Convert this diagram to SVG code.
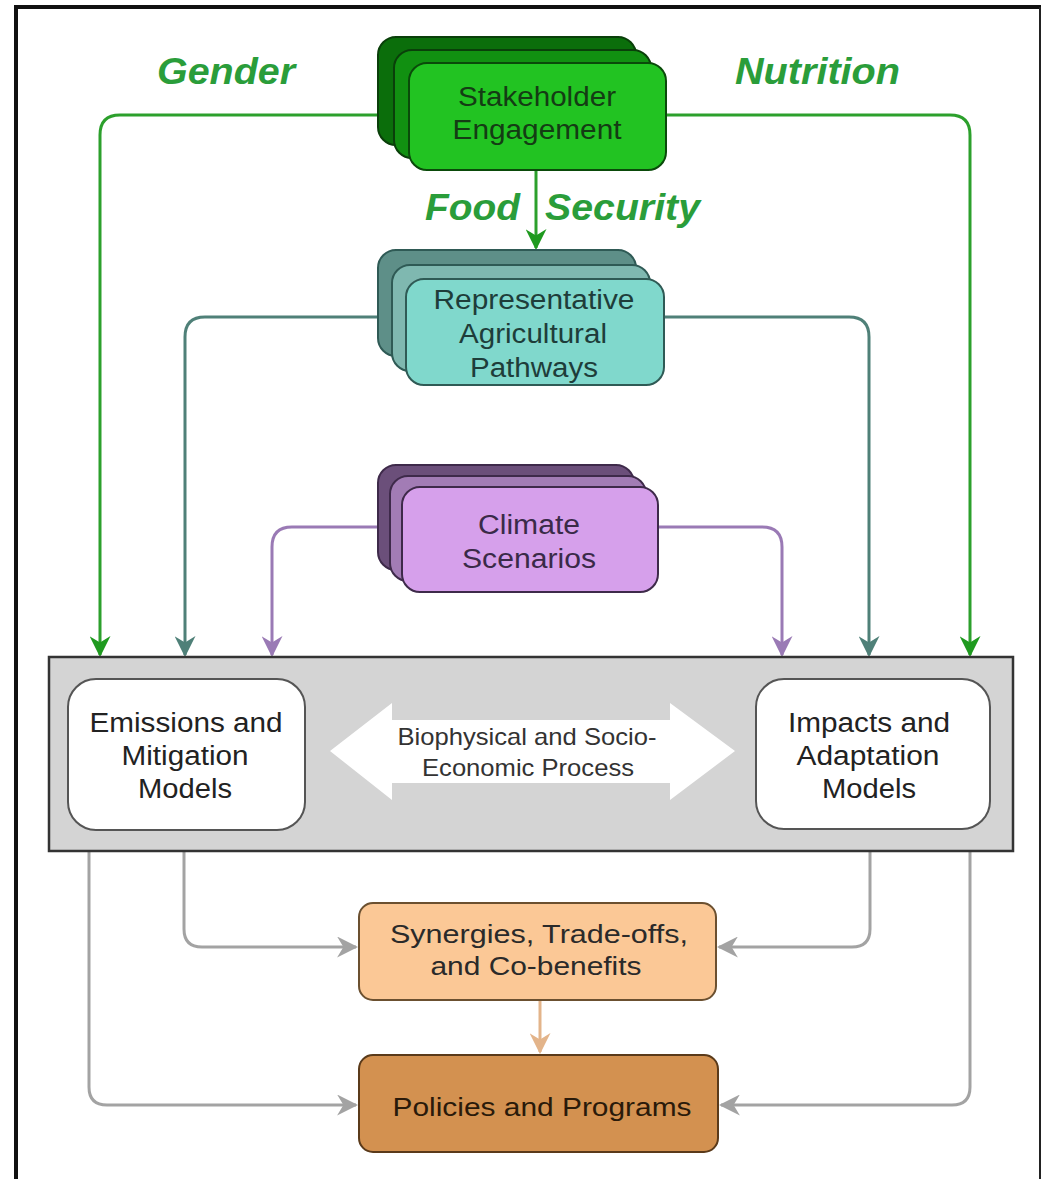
<svg xmlns="http://www.w3.org/2000/svg" width="1043" height="1179" viewBox="0 0 1043 1179">
<defs>
<style>
.t{font-family:"Liberation Sans",Arial,sans-serif;text-anchor:middle}
.lbl{font-family:"Liberation Sans",Arial,sans-serif;font-weight:bold;font-style:italic;fill:#2a9d3a}
.gc{fill:none;stroke:#2ca02c;stroke-width:3}
.tc{fill:none;stroke:#4f8078;stroke-width:3}
.pc{fill:none;stroke:#9a7ab5;stroke-width:3}
.yc{fill:none;stroke:#a3a3a3;stroke-width:3}
</style>
<marker id="mg" viewBox="0 0 10 10" refX="9" refY="5" markerWidth="7" markerHeight="7" orient="auto" markerUnits="strokeWidth"><path d="M0,0 L10,5 L0,10 L3,5 z" fill="#1f9a1f"/></marker>
<marker id="mt" viewBox="0 0 10 10" refX="9" refY="5" markerWidth="7" markerHeight="7" orient="auto" markerUnits="strokeWidth"><path d="M0,0 L10,5 L0,10 L3,5 z" fill="#4f8078"/></marker>
<marker id="mp" viewBox="0 0 10 10" refX="9" refY="5" markerWidth="7" markerHeight="7" orient="auto" markerUnits="strokeWidth"><path d="M0,0 L10,5 L0,10 L3,5 z" fill="#9a7ab5"/></marker>
<marker id="my" viewBox="0 0 10 10" refX="9" refY="5" markerWidth="7" markerHeight="7" orient="auto" markerUnits="strokeWidth"><path d="M0,0 L10,5 L0,10 L3,5 z" fill="#a3a3a3"/></marker>
<marker id="mo" viewBox="0 0 10 10" refX="9" refY="5" markerWidth="7" markerHeight="7" orient="auto" markerUnits="strokeWidth"><path d="M0,0 L10,5 L0,10 L3,5 z" fill="#e3b48a"/></marker>
</defs>
<rect x="0" y="0" width="1043" height="1179" fill="#ffffff"/>
<g id="frame">
<path d="M16,1179 L16,7 L1041,7" fill="none" stroke="#111" stroke-width="4"/>
<path d="M1040,7 L1040,1179" fill="none" stroke="#222" stroke-width="2"/>
</g>

<g id="connectors">
<path class="gc" d="M378,115 L120,115 Q100,115 100,135 L100,655" marker-end="url(#mg)"/>
<path class="gc" d="M666,115 L950,115 Q970,115 970,135 L970,655" marker-end="url(#mg)"/>
<path class="gc" d="M536,170 L536,248" marker-end="url(#mg)"/>
<path class="tc" d="M378,317 L205,317 Q185,317 185,337 L185,655" marker-end="url(#mt)"/>
<path class="tc" d="M664,317 L849,317 Q869,317 869,337 L869,655" marker-end="url(#mt)"/>
<path class="pc" d="M378,527 L292,527 Q272,527 272,547 L272,655" marker-end="url(#mp)"/>
<path class="pc" d="M658,527 L762,527 Q782,527 782,547 L782,655" marker-end="url(#mp)"/>
<path class="yc" d="M184,851 L184,929 Q184,947 202,947 L356,947" marker-end="url(#my)"/>
<path class="yc" d="M89,851 L89,1087 Q89,1105 107,1105 L356,1105" marker-end="url(#my)"/>
<path class="yc" d="M870,851 L870,929 Q870,947 852,947 L719,947" marker-end="url(#my)"/>
<path class="yc" d="M970,851 L970,1087 Q970,1105 952,1105 L721,1105" marker-end="url(#my)"/>
<path d="M540,1000 L540,1052" fill="none" stroke="#e3b48a" stroke-width="3" marker-end="url(#mo)"/>
</g>

<g id="labels">
<text class="lbl" x="157" y="84" font-size="36" textLength="138" lengthAdjust="spacingAndGlyphs">Gender</text>
<text class="lbl" x="735" y="84" font-size="36" textLength="165" lengthAdjust="spacingAndGlyphs">Nutrition</text>
<text class="lbl" x="425" y="220" font-size="36" textLength="95" lengthAdjust="spacingAndGlyphs">Food</text>
<text class="lbl" x="545" y="220" font-size="36" textLength="155" lengthAdjust="spacingAndGlyphs">Security</text>
</g>

<g id="stakeholder">
<rect x="378" y="37" width="258" height="108" rx="18" fill="#0b6e0b" stroke="#0a3f0a" stroke-width="2"/>
<rect x="394" y="50" width="257" height="108" rx="18" fill="#119011" stroke="#0a3f0a" stroke-width="2"/>
<rect x="409" y="63" width="257" height="107" rx="18" fill="#22c322" stroke="#0a4a0a" stroke-width="2"/>
<text class="t" x="537" y="106" font-size="27" fill="#143c14" textLength="158" lengthAdjust="spacingAndGlyphs">Stakeholder</text>
<text class="t" x="537" y="139" font-size="27" fill="#143c14" textLength="169" lengthAdjust="spacingAndGlyphs">Engagement</text>
</g>

<g id="rap">
<rect x="378" y="250" width="258" height="106" rx="18" fill="#5e8f88" stroke="#2f5a55" stroke-width="2"/>
<rect x="392" y="265" width="258" height="106" rx="18" fill="#7fb8b0" stroke="#2f5a55" stroke-width="2"/>
<rect x="406" y="279" width="258" height="106" rx="18" fill="#80d8cc" stroke="#2f5a55" stroke-width="2"/>
<text class="t" x="534" y="309" font-size="27" fill="#1e3d3a" textLength="201" lengthAdjust="spacingAndGlyphs">Representative</text>
<text class="t" x="533" y="343" font-size="27" fill="#1e3d3a" textLength="148" lengthAdjust="spacingAndGlyphs">Agricultural</text>
<text class="t" x="534" y="377" font-size="27" fill="#1e3d3a" textLength="128" lengthAdjust="spacingAndGlyphs">Pathways</text>
</g>

<g id="climate">
<rect x="378" y="465" width="256" height="105" rx="18" fill="#6b4f7a" stroke="#3e2a4a" stroke-width="2"/>
<rect x="390" y="476" width="256" height="105" rx="18" fill="#a27cb5" stroke="#3e2a4a" stroke-width="2"/>
<rect x="402" y="487" width="256" height="105" rx="18" fill="#d6a0eb" stroke="#3e2a4a" stroke-width="2"/>
<text class="t" x="529" y="534" font-size="27" fill="#3a2a48" textLength="102" lengthAdjust="spacingAndGlyphs">Climate</text>
<text class="t" x="529" y="568" font-size="27" fill="#3a2a48" textLength="134" lengthAdjust="spacingAndGlyphs">Scenarios</text>
</g>

<g id="process-band">
<rect x="49" y="657" width="964" height="194" fill="#d4d4d4" stroke="#333" stroke-width="2.5"/>
<path d="M330,751 L392,703 L392,720 L670,720 L670,703 L735,751 L670,800 L670,783 L392,783 L392,800 Z" fill="#ffffff"/>
<text class="t" x="527" y="745" font-size="24" fill="#333" textLength="259" lengthAdjust="spacingAndGlyphs">Biophysical and Socio-</text>
<text class="t" x="528" y="776" font-size="24" fill="#333" textLength="212" lengthAdjust="spacingAndGlyphs">Economic Process</text>
</g>

<g id="emissions">
<rect x="68" y="679" width="237" height="151" rx="28" fill="#ffffff" stroke="#555" stroke-width="2"/>
<text class="t" x="186" y="732" font-size="27" fill="#222" textLength="193" lengthAdjust="spacingAndGlyphs">Emissions and</text>
<text class="t" x="185" y="765" font-size="27" fill="#222" textLength="127" lengthAdjust="spacingAndGlyphs">Mitigation</text>
<text class="t" x="185" y="798" font-size="27" fill="#222" textLength="94" lengthAdjust="spacingAndGlyphs">Models</text>
</g>

<g id="impacts">
<rect x="756" y="679" width="234" height="150" rx="28" fill="#ffffff" stroke="#555" stroke-width="2"/>
<text class="t" x="869" y="732" font-size="27" fill="#222" textLength="162" lengthAdjust="spacingAndGlyphs">Impacts and</text>
<text class="t" x="868" y="765" font-size="27" fill="#222" textLength="143" lengthAdjust="spacingAndGlyphs">Adaptation</text>
<text class="t" x="869" y="798" font-size="27" fill="#222" textLength="94" lengthAdjust="spacingAndGlyphs">Models</text>
</g>

<g id="synergies">
<rect x="359" y="903" width="357" height="97" rx="14" fill="#fbc896" stroke="#6b5030" stroke-width="2"/>
<text class="t" x="539" y="943" font-size="26" fill="#2a2a2a" textLength="298" lengthAdjust="spacingAndGlyphs">Synergies, Trade-offs,</text>
<text class="t" x="536" y="975" font-size="26" fill="#2a2a2a" textLength="211" lengthAdjust="spacingAndGlyphs">and Co-benefits</text>
</g>

<g id="policies">
<rect x="359" y="1055" width="359" height="97" rx="14" fill="#d39150" stroke="#5a3a1a" stroke-width="2"/>
<text class="t" x="542" y="1116" font-size="26" fill="#2a1a0a" textLength="299" lengthAdjust="spacingAndGlyphs">Policies and Programs</text>
</g>
</svg>
